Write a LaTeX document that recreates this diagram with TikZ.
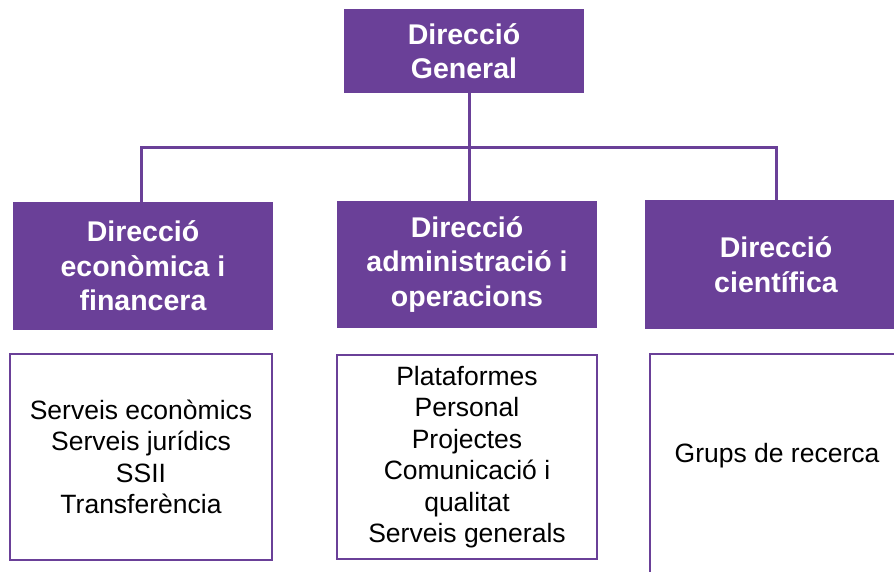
\documentclass[tikz,border=0pt]{standalone}
\usepackage{fontspec}
\setmainfont{Liberation Sans}
\definecolor{purp}{RGB}{106,64,152}
\definecolor{shad}{RGB}{224,214,234}
\begin{document}
\begin{tikzpicture}[x=1pt,y=-1pt,
  head/.style={fill=purp,draw=none,text=white,align=center,inner sep=0pt,
    font=\fontsize{28.5}{34.5}\selectfont\bfseries},
  sub/.style={draw=purp,line width=2.6pt,fill=white,text=black,align=center,inner sep=0pt,
    font=\fontsize{26.5}{31.5}\selectfont},
  subtext/.style={text=black,align=center,inner sep=0pt,font=\fontsize{26.5}{31.5}\selectfont},
  conn/.style={draw=purp,line width=3pt},
  connshadow/.style={draw=shad,line width=3pt}]
\useasboundingbox (0,0) rectangle (894,572);
\clip (0,0) rectangle (894,572);
% coordinates for connector junctions
\coordinate (jt) at (469,93);
\coordinate (jm) at (469,148);
\coordinate (jl) at (141,148);
\coordinate (jr) at (776,148);
\coordinate (el) at (141,202);
\coordinate (em) at (469,201);
\coordinate (er) at (776,200);
% shadows of connectors
\begin{scope}[shift={(4,4)}]
\draw[connshadow] (jt) -- (em);
\draw[connshadow] (el) -- (jl) -- (jr) -- (er);
\end{scope}
% connectors
\draw[conn] (jt) -- (em);
\draw[conn] (el) -- (jl) -- (jr) -- (er);
% header boxes
\node[head,minimum width=240pt,minimum height=84pt] (dg) at (464,51) {Direcció\\General};
\node[head,minimum width=260pt,minimum height=128pt] (d1) at (143,266) {Direcció\\econòmica i\\financera};
\node[head,minimum width=260pt,minimum height=127pt] (d2) at (467,264.5) {Direcció\\administració i\\operacions};
\node[head,minimum width=262pt,minimum height=129pt] (d3) at (776,264.5) {Direcció\\científica};
% sub boxes
\node[sub,minimum width=262pt,minimum height=206pt] (b1) at (141,457) {Serveis econòmics\\Serveis jurídics\\SSII\\Transferència};
\node[sub,minimum width=260pt,minimum height=204pt] (b2) at (467,457) {Plataformes\\Personal\\Projectes\\Comunicació i\\qualitat\\Serveis generals};
\draw[draw=purp,line width=2.6pt,fill=white] (650,354) rectangle (910,600);
\node[subtext] (b3) at (777,456) {Grups de recerca};
\end{tikzpicture}
\end{document}
